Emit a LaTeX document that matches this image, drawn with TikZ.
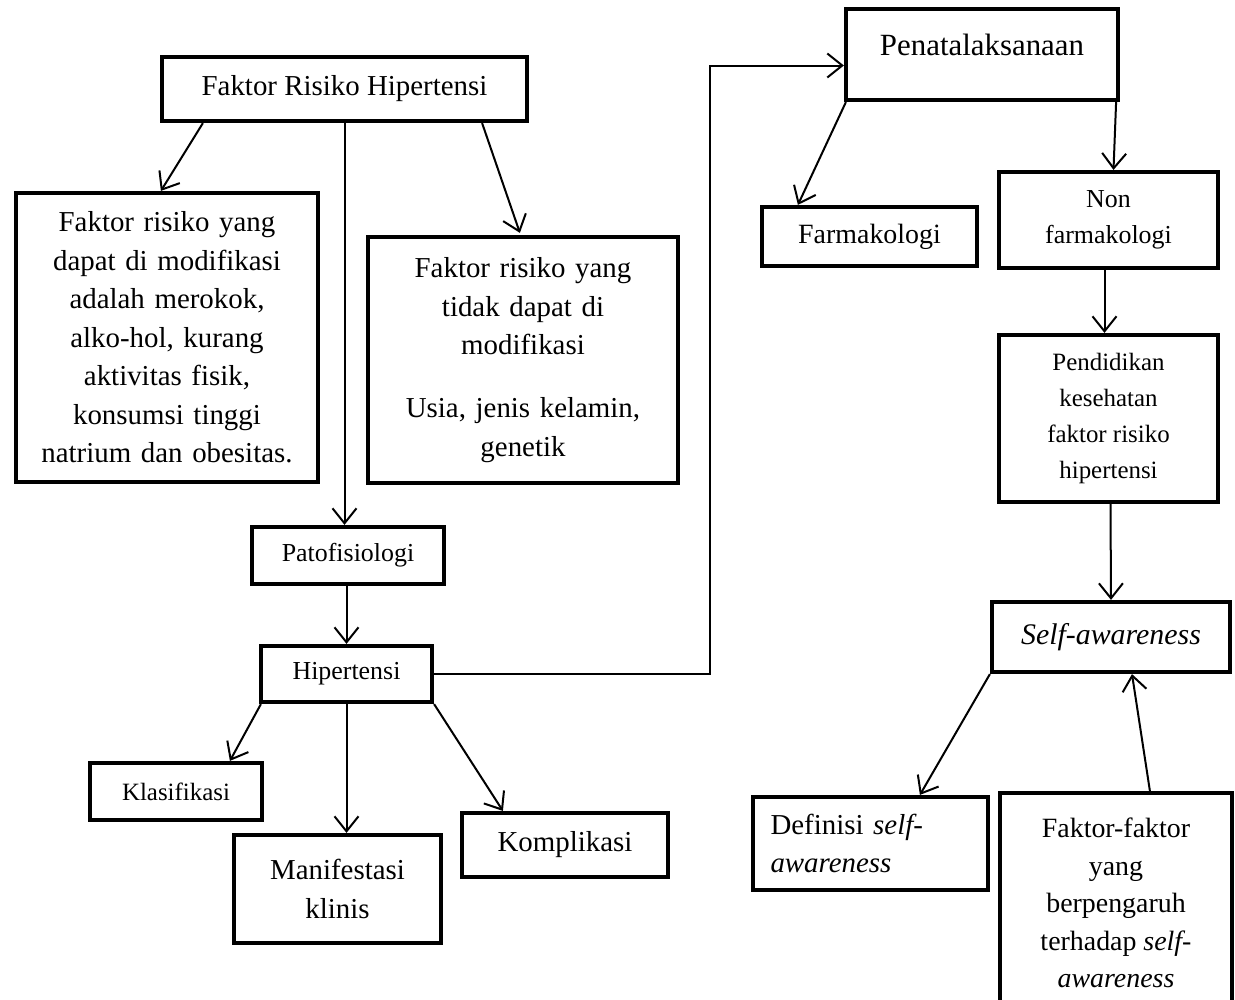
\documentclass[tikz,border=0pt]{standalone}
\usepackage{fontspec}
\setmainfont{Liberation Serif}
\usetikzlibrary{arrows.meta,calc}
\newcommand\myfs[2]{\fontsize{#1}{#2}\selectfont}
\tikzset{
  box/.style={draw, line width=4.2bp, inner sep=0pt, align=center},
  conn/.style={line width=2bp, -{Straight Barb[length=15bp,width=24bp,line width=2bp]}},
}
\begin{document}
\begin{tikzpicture}[x=1bp,y=-1bp]
\clip (0,0) rectangle (1235,1000);
\fill[white] (0,0) rectangle (1235,1000);

% left part
\node[box, minimum width=365bp, minimum height=64bp, font=\myfs{29}{38}] (A) at (344.5,89) {Faktor Risiko Hipertensi};
\node[box, minimum width=302bp, minimum height=289bp, text width=290bp, font=\myfs{29}{38.7}] (B) at (167,337.5)
  {Faktor risiko yang\\ dapat di modifikasi\\ adalah merokok,\\ alko-hol, kurang\\ aktivitas fisik,\\ konsumsi tinggi\\ natrium dan obesitas.};
\node[box, minimum width=310bp, minimum height=246bp, text width=300bp, font=\myfs{29}{39}] (C) at (523,360)
  {Faktor risiko yang\\ tidak dapat di\\ modifikasi\\[24bp] Usia, jenis kelamin,\\ genetik};
\node[box, minimum width=192bp, minimum height=57bp, font=\myfs{26}{34}] (P) at (348,555.5) {Patofisiologi};
\node[box, minimum width=171bp, minimum height=56bp, font=\myfs{26}{34}] (H) at (346.5,674) {Hipertensi};
\node[box, minimum width=172bp, minimum height=57bp, font=\myfs{25}{32}] (K) at (176,791.5) {Klasifikasi};
\node[box, minimum width=207bp, minimum height=108bp, font=\myfs{29}{39}] (M) at (337.5,889) {Manifestasi\\ klinis};
\node[box, minimum width=206bp, minimum height=64bp, font=\myfs{29}{36}] (KO) at (565,845) {Komplikasi};

% right part
\node[box, minimum width=272bp, minimum height=91bp, text depth=20bp, font=\myfs{31}{40}] (PN) at (982,54.5) {Penatalaksanaan};
\node[box, minimum width=215bp, minimum height=59bp, font=\myfs{28}{36}] (F) at (869.5,236.5) {Farmakologi};
\node[box, minimum width=219bp, minimum height=96bp, font=\myfs{26}{36}] (N) at (1108.5,220) {Non\\ farmakologi};
\node[box, minimum width=219bp, minimum height=167bp, font=\myfs{25}{36}] (PD) at (1108.5,418.5) {Pendidikan\\ kesehatan\\ faktor risiko\\ hipertensi};
\node[box, minimum width=238bp, minimum height=70bp, font=\myfs{30}{38}] (S) at (1111,637) {\itshape Self-awareness};
\node[box, minimum width=235bp, minimum height=93bp, text width=200bp, align=left, font=\myfs{29}{38}] (D) at (870.5,843.5) {Definisi \textit{self-}\\ \textit{awareness}};
\node[box, minimum width=232bp, minimum height=220bp, font=\myfs{28}{37.5}] (FF) at (1116,903) {Faktor-faktor\\ yang\\ berpengaruh\\ terhadap \textit{self-}\\ \textit{awareness}};

% connectors
\draw[conn] ($(A.south west)+(43,0)$) -- ($(B.north west)+(147,0)$);
\draw[conn] ($(A.south east)+(-47,0)$) -- ($(C.north west)+(154,-2)$);
\draw[conn] (A.south) -- (A.south |- P.north);
\draw[conn] (H.north |- P.south) -- (H.north);
\draw[conn] ($(H.south west)+(2,0)$) -- ($(K.north west)+(142,0)$);
\draw[conn] (H.south) -- (H.south |- M.north);
\draw[conn] (H.south east) -- ($(KO.north west)+(43,0)$);
\coordinate (penin) at ($(PN.west)+(0,11)$);
\draw[conn] (H.east) -| ($(penin)+(-134,0)$) -- (penin);
\draw[conn] ($(PN.south west)+(2,0)$) -- ($(F.north west)+(38,0)$);
\draw[conn] ($(PN.south east)+(-4,0)$) -- ($(N.north)+(5,0)$);
\draw[conn] ($(N.south)+(-4,0)$) -- ($(PD.north)+(-4,0)$);
\draw[conn] ($(PD.south)+(2,0)$) -- (S.north);
\draw[conn] (S.south west) -- ($(D.north west)+(169,0)$);
\draw[conn] ($(FF.north west)+(152,0)$) -- ($(S.south)+(21,0)$);
\end{tikzpicture}
\end{document}
